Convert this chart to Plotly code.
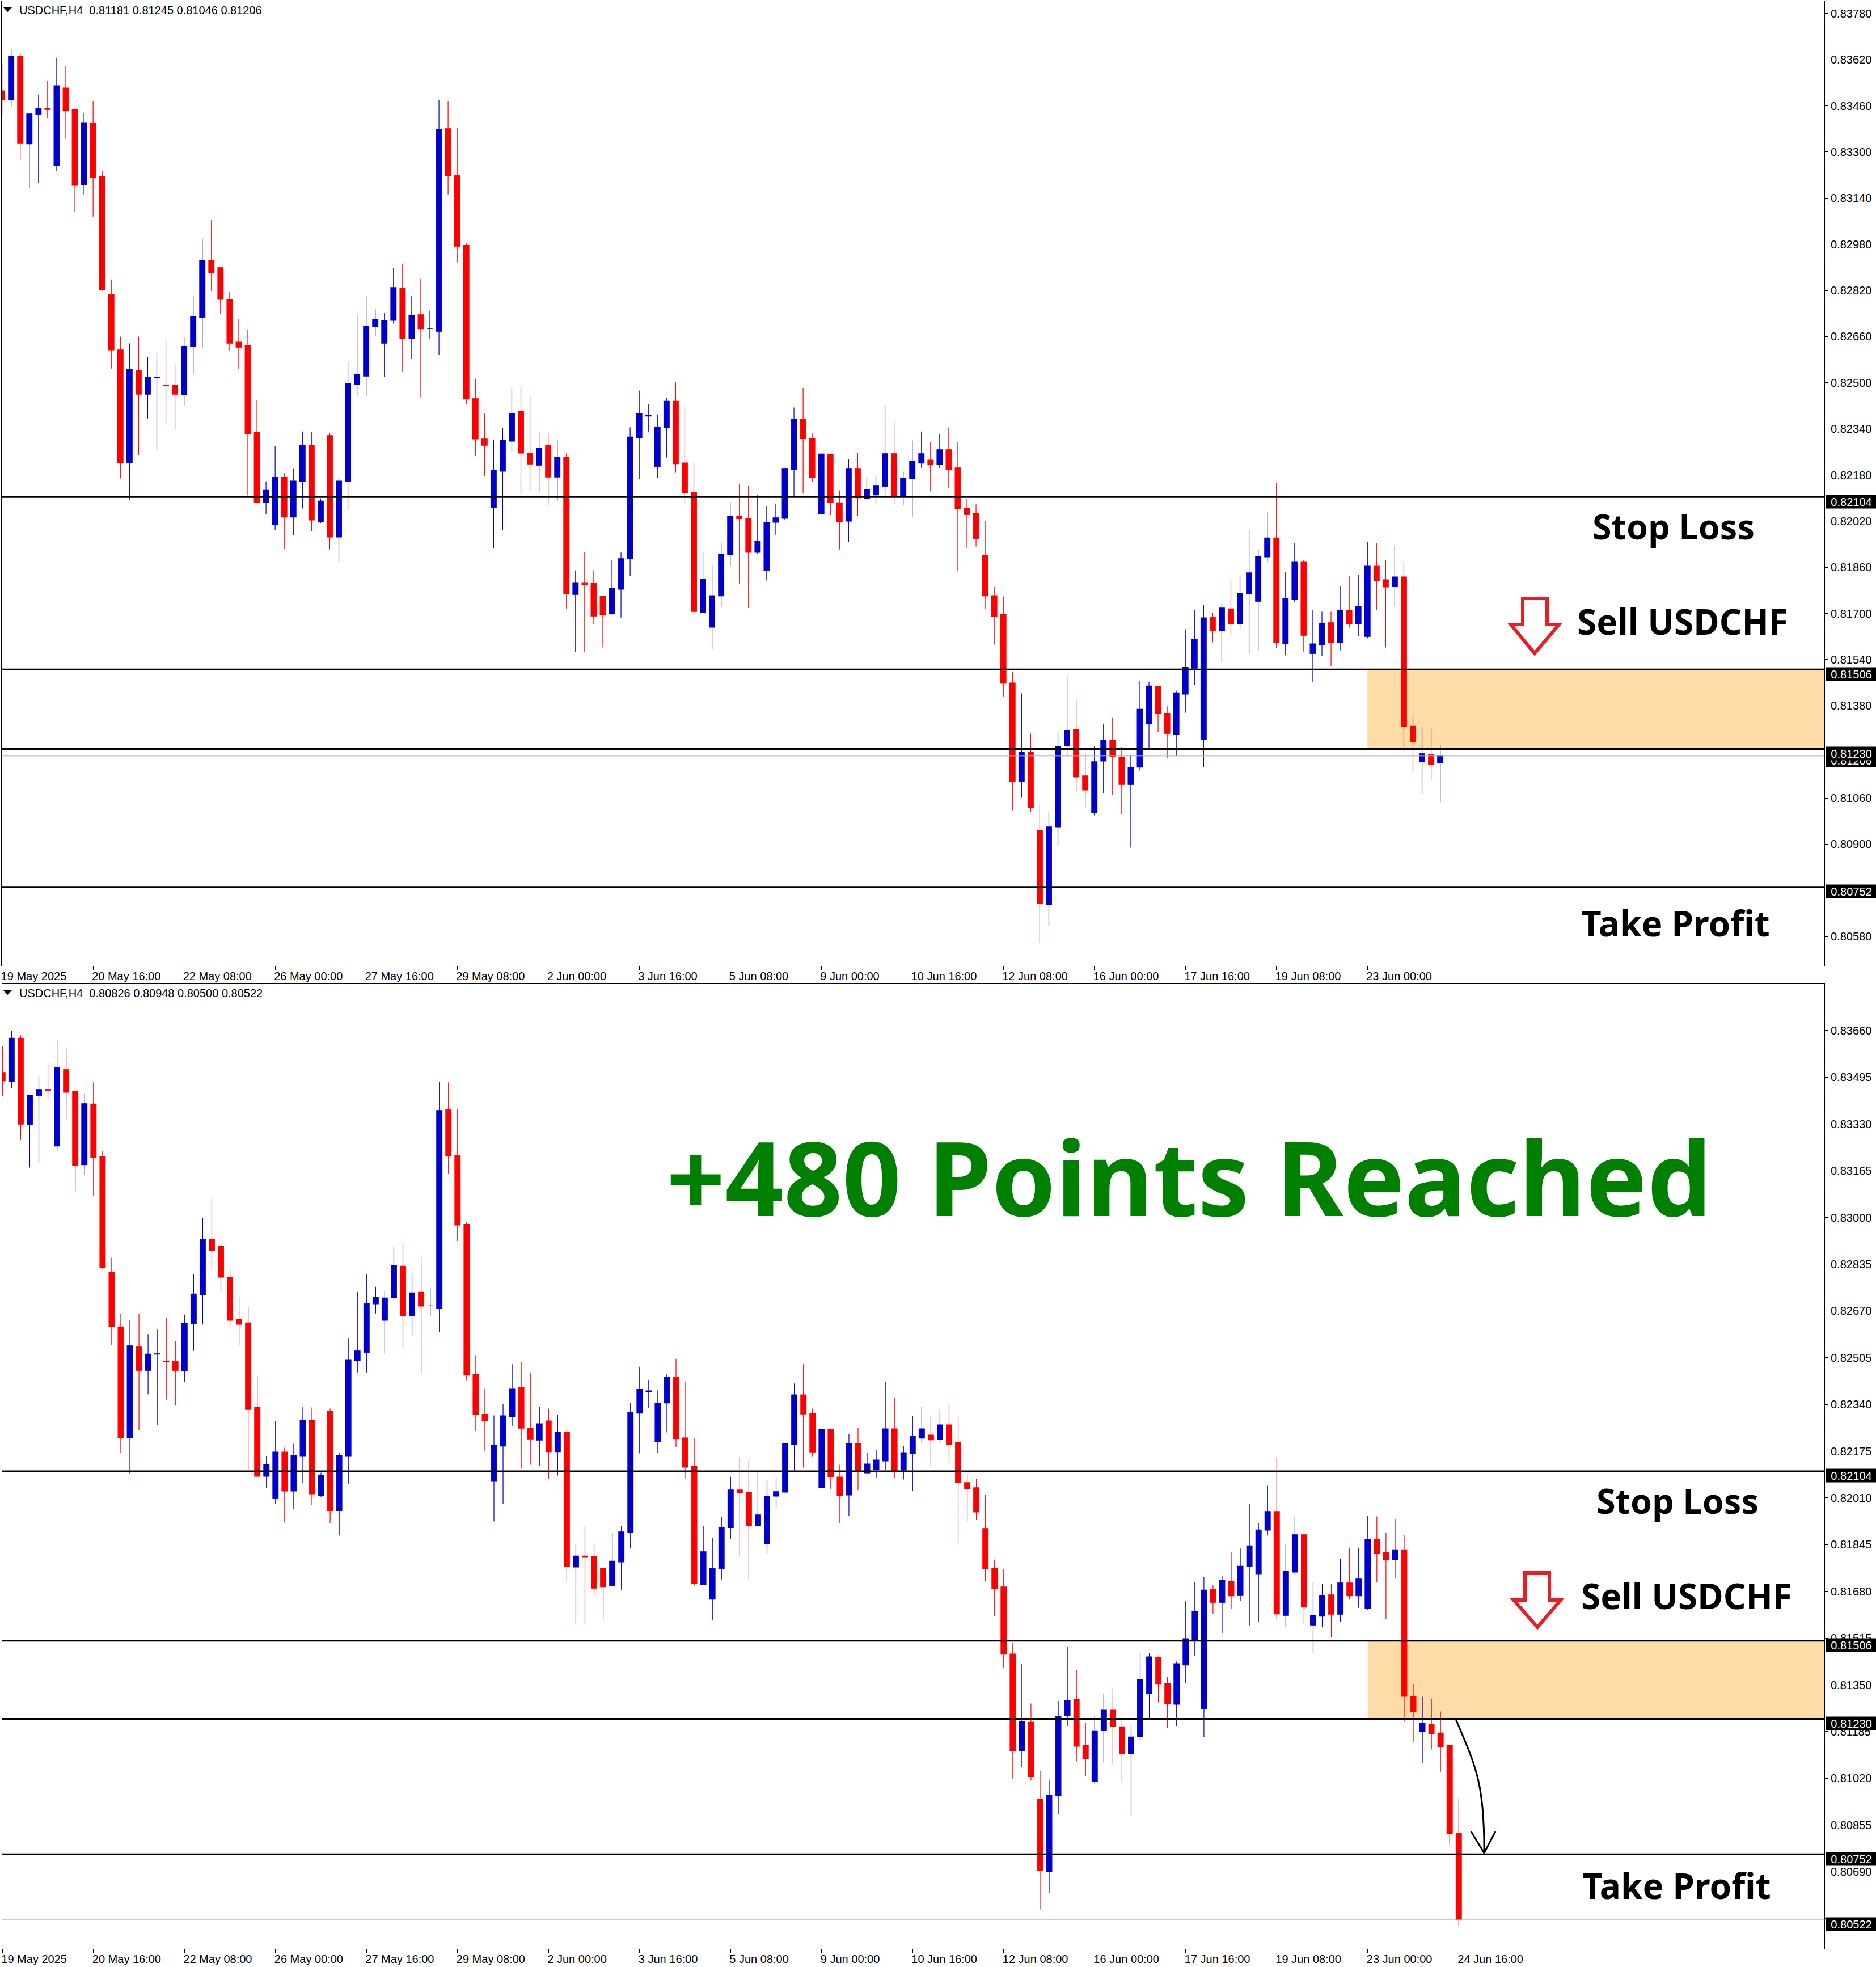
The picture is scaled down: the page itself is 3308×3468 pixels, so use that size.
import plotly.graph_objects as go

W, H = 3308, 3468

# Shared candles, in 1e-5 price units (index 0 = 19 May 2025, H4)
open_pts = [83512,83481,83633,83328,83430,83452,83252,83522,83446,83186,
 83401,83214,82806,82614,82223,82543,82460,82517,82492,82492,
 82459,82626,82726,82923,82899,82789,82641,82628,82329,82086,
 82009,82172,82034,82158,82283,82017,82317,81965,82158,82495,
 82523,82695,82637,82716,82828,82653,82736,82688,82678,83381,
 83219,82976,82445,82305,82068,82193,82297,82400,82255,82214,
 82282,82173,82242,81766,81805,81804,81761,81700,81784,81889,
 82309,82384,82209,82345,82436,82222,82121,81704,81652,81761,
 81905,82038,82030,81912,81849,82016,82030,82198,82374,82307,
 82046,82251,82084,82020,82201,82098,82111,82140,82254,82108,
 82167,82221,82232,82217,82268,82205,82064,82046,81902,81762,
 81696,81459,81117,81218,80947,80690,80960,81240,81299,81137,
 81009,81188,81261,81202,81107,81167,81319,81447,81354,81281,
 81420,81510,81264,81687,81641,81716,81665,81769,81742,81896,
 81962,81595,81748,81880,81561,81592,81668,81599,81710,81664,
 81620,81864,81817,81793,81827,81309,81186,81211]
high_pts = [83605,83658,83643,83432,83499,83546,83627,83598,83446,83436,
 83477,83235,82858,82660,82636,82660,82588,82604,82647,82564,
 82657,82801,82999,83066,82902,82816,82720,82685,82441,82158,
 82280,82187,82201,82331,82329,82099,82325,82170,82574,82737,
 82801,82755,82741,82897,82913,82803,82860,82750,83479,83477,
 83383,82983,82514,82395,82301,82342,82482,82490,82453,82331,
 82325,82303,82255,81849,81912,81849,81761,81886,81911,82345,
 82473,82427,82390,82447,82501,82421,82221,81912,81869,81944,
 82085,82150,82144,82111,82072,82081,82205,82414,82482,82325,
 82253,82251,82127,82235,82257,82170,82178,82420,82365,82192,
 82300,82331,82294,82323,82345,82294,82097,82078,82020,81792,
 81759,81499,81423,81284,81045,81012,81293,81484,81403,81215,
 81240,81318,81338,81237,81208,81467,81463,81450,81378,81432,
 81645,81713,81730,81701,81734,81817,81831,81990,81922,82053,
 82153,81844,81945,81886,81713,81706,81706,81795,81831,81834,
 81948,81945,81886,81935,81878,81353,81308,81301]
low_pts = [83428,83456,83274,83176,83193,83418,83233,83346,83092,83151,
 83076,82819,82549,82168,82095,82249,82376,82268,82356,82336,
 82419,82529,82622,82818,82740,82612,82547,82109,82086,82044,
 81990,81923,81972,82064,81985,82014,81922,81877,82059,82453,
 82453,82661,82519,82705,82537,82582,82449,82651,82596,83153,
 82917,82425,82246,82175,81927,81989,82262,82113,82127,82122,
 82076,82089,81716,81566,81566,81663,81582,81696,81686,81831,
 82167,82328,82170,82241,82188,82079,81700,81704,81577,81722,
 81864,81804,81719,81906,81814,81973,82025,82104,82117,82157,
 82046,82041,81922,81948,82038,82094,82081,82108,82079,82075,
 82036,82205,82123,82204,82134,81847,81927,81932,81717,81592,
 81410,81018,81061,81012,80557,80616,80893,81205,81080,81029,
 81000,81078,81070,81005,80888,81155,81231,81288,81198,81205,
 81356,81453,81167,81600,81532,81619,81646,81560,81572,81877,
 81581,81555,81740,81568,81463,81553,81518,81572,81651,81622,
 81614,81713,81582,81725,81219,81148,81073,81122]
close_pts = [83482,83633,83329,83432,83452,83447,83530,83442,83184,83402,
 83211,82823,82614,82223,82547,82460,82518,82519,82490,82460,
 82626,82730,82923,82882,82789,82637,82623,82322,82086,82127,
 82172,82034,82159,82283,82024,82090,81965,82159,82498,82529,
 82696,82719,82716,82830,82653,82734,82687,82688,83378,83218,
 82973,82443,82305,82283,82196,82300,82394,82256,82218,82272,
 82173,82242,81768,81805,81800,81691,81696,81787,81890,82312,
 82393,82388,82345,82436,82219,82118,81707,81820,81762,81906,
 82038,82029,81912,81950,82016,82032,82201,82374,82306,82172,
 82253,82085,82019,82201,82101,82130,82144,82254,82105,82170,
 82227,82254,82215,82268,82199,82064,82043,81960,81761,81690,
 81458,81117,81220,81026,80694,80960,81240,81295,81133,81088,
 81186,81261,81204,81107,81166,81368,81449,81354,81284,81425,
 81513,81610,81685,81641,81719,81664,81769,81841,81897,81962,
 81600,81752,81880,81624,81595,81665,81599,81710,81664,81724,
 81864,81814,81792,81827,81309,81254,81214,81177]

# Final candles that differ between the two panels: (O, H, L, C)
top_tail = [(81181, 81245, 81046, 81206)]
bottom_tail = [(81180, 81256, 81043, 81132), (81137, 81137, 80785, 80824), (80826, 80948, 80500, 80522)]

top_yticks = ["0.83780","0.83620","0.83460","0.83300","0.83140","0.82980","0.82820","0.82660","0.82500","0.82340",
              "0.82180","0.82020","0.81860","0.81700","0.81540","0.81380","0.81220","0.81060","0.80900","0.80740","0.80580"]
bottom_yticks = ["0.83660","0.83495","0.83330","0.83165","0.83000","0.82835","0.82670","0.82505","0.82340","0.82175",
                 "0.82010","0.81845","0.81680","0.81515","0.81350","0.81185","0.81020","0.80855","0.80690","0.80525"]
# ticks whose label sits fully behind a price tag in the picture
covered_ticks = {"0.81220", "0.80740", "0.80525"}
time_labels = ["19 May 2025","20 May 16:00","22 May 08:00","26 May 00:00","27 May 16:00","29 May 08:00","2 Jun 00:00",
               "3 Jun 16:00","5 Jun 08:00","9 Jun 00:00","10 Jun 16:00","12 Jun 08:00","16 Jun 00:00","17 Jun 16:00",
               "19 Jun 08:00","23 Jun 00:00"]
time_labels_bottom = time_labels + ["24 Jun 16:00"]

stop_loss, sell_zone_top, sell_zone_bottom, take_profit = 0.82104, 0.81506, 0.81230, 0.80752
zone_start_candle = 150
DOJI = 47

BLUE, RED = "#0000CD", "#FF0000"
FONT = "Liberation Sans"
BOLD = "Noto Sans"

def px(x): return x / W
def py(y): return 1 - y / H

fig = go.Figure()

def add_panel(tail, xa, ya):
    rows = list(zip(open_pts, high_pts, low_pts, close_pts)) + tail
    main = [i for i in range(len(rows)) if i != DOJI]
    for idx, inc, dec in ((main, BLUE, RED), ([DOJI], "#000000", "#000000")):
        fig.add_trace(go.Candlestick(
            x=idx,
            open=[rows[i][0] / 1e5 for i in idx],
            high=[rows[i][1] / 1e5 for i in idx],
            low=[rows[i][2] / 1e5 for i in idx],
            close=[rows[i][3] / 1e5 for i in idx],
            increasing=dict(line=dict(color=inc, width=1.2), fillcolor=inc),
            decreasing=dict(line=dict(color=dec, width=1.2), fillcolor=dec),
            whiskerwidth=0, showlegend=False, xaxis=xa, yaxis=ya))

add_panel(top_tail, "x", "y")
add_panel(bottom_tail, "x2", "y2")

def axes(domx, domy, xr, yr, xlabels, yticks, ax):
    common = dict(showgrid=False, zeroline=False, showline=True, linecolor="#000000", linewidth=1, mirror=True,
                  ticks="outside", ticklen=6, tickwidth=1, tickcolor="#000000",
                  tickfont=dict(family=FONT, size=20, color="#000000"))
    xa = dict(domain=domx, range=xr, tickmode="array", tickvals=[10 * i for i in range(len(xlabels))],
              ticktext=xlabels, ticklabelposition="outside right", ticklabelshift=-3,
              rangeslider=dict(visible=False), anchor="y" if ax == "" else "y2", **common)
    ya = dict(domain=domy, range=yr, side="right", tickmode="array", tickvals=[float(t) for t in yticks],
              ticktext=["" if t in covered_ticks else t for t in yticks],
              anchor="x" if ax == "" else "x2", **common)
    fig.update_layout(**{"xaxis" + ax: xa, "yaxis" + ax: ya})

axes([px(2.5), px(3217)], [py(1703), py(2)], [-0.07, 200.2], [0.80478, 0.83823], time_labels, top_yticks, "")
axes([px(3.5), px(3217)], [py(3436), py(1735)], [-0.05, 200.17], [0.80418, 0.83824], time_labels_bottom, bottom_yticks, "2")

shapes, annos = [], []

def hline(y, ax, color="#000000", width=3):
    shapes.append(dict(type="line", xref=f"x{ax} domain", yref=f"y{ax}", x0=0, x1=1, y0=y, y1=y,
                       line=dict(color=color, width=width)))

def price_tag(val, ax):
    annos.append(dict(xref="paper", yref=f"y{ax}", x=px(3219), y=float(val), yshift=-8, xanchor="left", yanchor="middle",
                      text=val, showarrow=False, bgcolor="#000000", width=87, height=21, align="center",
                      font=dict(family=FONT, size=20, color="#FFFFFF")))

def label(text, x, y, size, color="#000000"):
    annos.append(dict(xref="paper", yref="paper", x=px(x), y=py(y), xanchor="center", yanchor="middle",
                      text=f"<b>{text}</b>", showarrow=False, font=dict(family=BOLD, size=size, color=color)))

def poly(pts):
    return "M " + " L ".join(f"{px(a):.6f},{py(b):.6f}" for a, b in pts)

for ax, last in (("", "0.81206"), ("2", "0.80522")):
    shapes.append(dict(type="rect", xref=f"x{ax}", yref=f"y{ax}", x0=zone_start_candle, x1=201,
                       y0=sell_zone_bottom, y1=sell_zone_top, fillcolor="#FDDCA8", line=dict(width=0), layer="below"))
    hline(float(last), ax, "#A8B4C0" if ax == "" else "#A0A0A0", 1)
    for lvl in (stop_loss, sell_zone_top, sell_zone_bottom, take_profit):
        hline(lvl, ax)
    price_tag(last, ax)
    for lvl in (stop_loss, sell_zone_top, sell_zone_bottom, take_profit):
        price_tag(f"{lvl:.5f}", ax)

# header triangles and captions
for yy, caption in ((18, "USDCHF,H4  0.81181 0.81245 0.81046 0.81206"), (1751, "USDCHF,H4  0.80826 0.80948 0.80500 0.80522")):
    shapes.append(dict(type="path", xref="paper", yref="paper", fillcolor="#000000", line=dict(width=0),
                       path=poly([(6, yy - 5), (21, yy - 5), (13.5, yy + 3)]) + " Z"))
    annos.append(dict(xref="paper", yref="paper", x=px(32), y=py(yy), xanchor="left", yanchor="middle",
                      text=caption.replace("  ", "&nbsp;&nbsp;"),
                      showarrow=False, font=dict(family=FONT, size=20, color="#000000")))

# red sell arrows
for p in ([(2685, 1055), (2728, 1055), (2728, 1101), (2749, 1101), (2706, 1152), (2664, 1101), (2685, 1101)],
          [(2689, 2773), (2732, 2773), (2732, 2821), (2752, 2821), (2711, 2869), (2669, 2821), (2689, 2821)]):
    shapes.append(dict(type="path", xref="paper", yref="paper", line=dict(color="#ED1C24", width=6),
                       path=poly(p) + " Z"))

# black curved arrow
c = lambda a, b: f"{px(a):.6f},{py(b):.6f}"
shapes.append(dict(type="path", xref="paper", yref="paper", line=dict(color="#000000", width=3),
                   path=f"M {c(2567, 3031)} C {c(2600, 3110)} {c(2618, 3140)} {c(2617, 3267)}"))
shapes.append(dict(type="path", xref="paper", yref="paper", line=dict(color="#000000", width=3),
                   path=poly([(2594, 3229), (2617, 3267), (2637, 3229)])))

label("Stop Loss", 2951, 927, 61)
label("Sell USDCHF", 2967, 1095, 62)
label("Take Profit", 2954, 1627, 62)
label("Stop Loss", 2958, 2645, 61)
label("Sell USDCHF", 2974, 2813, 62)
label("Take Profit", 2956, 3324, 62)
label("+480 Points Reached", 2097, 2074, 181, "#008000")

fig.update_layout(width=W, height=H, autosize=False, margin=dict(l=0, r=0, t=0, b=0),
                  paper_bgcolor="#FFFFFF", plot_bgcolor="#FFFFFF", showlegend=False,
                  boxgap=0.3, boxgroupgap=0.14,
                  shapes=shapes, annotations=annos, font=dict(family=FONT))

fig.write_html("out.html", config=dict(displayModeBar=False),
               post_script="document.documentElement.style.margin='0';document.body.style.margin='0';")
